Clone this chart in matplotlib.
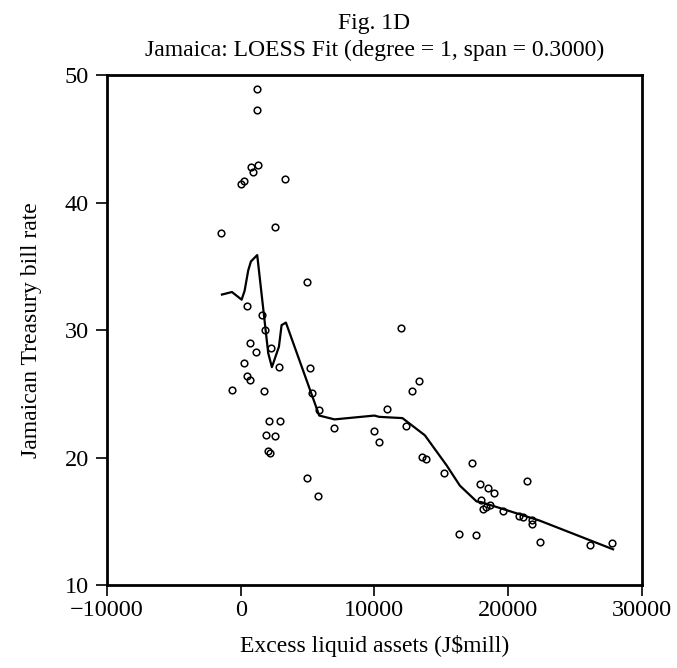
import numpy as np
import matplotlib
matplotlib.use("Agg")
import matplotlib.pyplot as plt

# scatter data: excess liquid assets (J$mill) vs treasury bill rate
liq = [1192, 1237, 1312, 789, 916, 220, 41, 3333, -1455, 2585,
       4930, 445, 1589, 1791, 669, 2262, 1162, 243, 5200, 2837,
       490, 669, -677, 1716, 5330, 5875, 2112, 2957, 1888, 2561,
       2037, 2209, 7016, 10000, 10350, 11981, 13300, 12850, 10980, 12355,
       4978, 5750, 13575, 13875, 15220, 17310, 17910, 18485, 18960, 21380,
       18000, 18090, 18340, 18660, 19585, 20780, 21140, 21780, 21780, 22400,
       16340, 17590, 26090, 27790]
rate = [48.9, 47.3, 43.0, 42.8, 42.4, 41.7, 41.5, 41.9, 37.6, 38.1,
        33.8, 31.9, 31.2, 30.0, 29.0, 28.6, 28.3, 27.4, 27.0, 27.1,
        26.4, 26.1, 25.3, 25.2, 25.1, 23.7, 22.85, 22.9, 21.8, 21.7,
        20.5, 20.4, 22.3, 22.1, 21.2, 30.16, 26.0, 25.2, 23.8, 22.5,
        18.4, 17.0, 20.04, 19.9, 18.8, 19.6, 17.9, 17.6, 17.2, 18.2,
        16.7, 16.0, 16.1, 16.3, 15.8, 15.4, 15.3, 15.1, 14.8, 13.4,
        14.0, 13.9, 13.1, 13.3]

# loess fit curve
fit_x = [-1402, -654, 71, 295, 565, 766, 1237, 2060, 2336, 2860,
         3060, 3383, 5875, 7016, 10000, 10350, 12100, 13776, 15396, 16393,
         17640, 18000, 22370, 27850]
fit_y = [32.8, 33.0, 32.4, 33.1, 34.7, 35.4, 35.9, 28.2, 27.1, 28.7,
         30.4, 30.6, 23.3, 23.0, 23.3, 23.2, 23.1, 21.75, 19.4, 17.8,
         16.56, 16.5, 15.05, 12.8]

xticks = [-10000, 0, 10000, 20000, 30000]
yticks = [10, 20, 30, 40, 50]

plt.rcParams['font.family'] = ['Liberation Serif', 'DejaVu Serif']

fig = plt.figure(figsize=(6.77, 6.68), dpi=100)
ax = fig.add_axes([0.158, 0.1243, 0.79, 0.7627])

ax.plot(fit_x, fit_y, color='black', lw=1.6)
ax.plot(liq, rate, 'o', ms=4.8, mfc='none', mec='black', mew=1.1)

ax.set_xlim(-10000, 30000)
ax.set_ylim(10, 50)
ax.set_xticks(xticks)
ax.set_yticks(yticks)
ax.tick_params(direction='out', length=8, width=1.2, labelsize=17.5, pad=3,
               top=False, right=False)
ax.tick_params(axis='y', pad=5)
for s in ax.spines.values():
    s.set_linewidth(2)

ax.set_xlabel('Excess liquid assets (J$mill)', fontsize=17, labelpad=10)
ax.set_ylabel('Jamaican Treasury bill rate', fontsize=17, labelpad=16)
ax.set_title('Fig. 1D\nJamaica: LOESS Fit (degree = 1, span = 0.3000)',
             fontsize=17, pad=14, linespacing=1.35)

fig.savefig('out.png', dpi=100)
